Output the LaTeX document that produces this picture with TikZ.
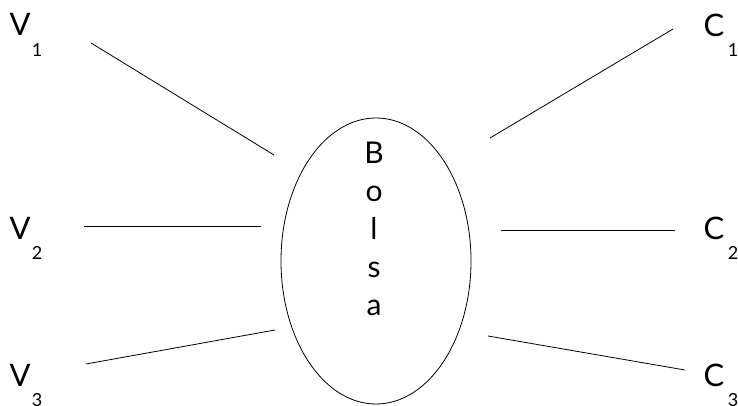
\documentclass[tikz,border=0pt]{standalone}
\usepackage{fontspec}
\setmainfont{Lato}
\usepackage{tikz}
\usetikzlibrary{calc,positioning,shapes.geometric}

\begin{document}
\begin{tikzpicture}[x=1pt,y=-1pt,
  lbl/.style={font=\fontsize{31}{34}\selectfont, inner sep=0pt},
  idx/.style={font=\fontsize{18}{20}\selectfont, inner sep=0pt},
  link/.style={line width=0.8pt}]
% market hub with sellers on the left and buyers on the right
\useasboundingbox (0,0) rectangle (738,406);
\node[ellipse, draw, line width=0.8pt, minimum width=190, minimum height=286, inner sep=0pt]
  (bolsa) at (376,261) {};
\node[align=center, font=\fontsize{30}{38}\selectfont, inner sep=0pt]
  (bolsatxt) at (374,229) {B\\o\\l\\s\\a};
% sellers
\node[lbl] (v1) at (20,24) {V};   \node[idx] (v1i) at (37,50) {1};
\node[lbl] (v2) at (20,228) {V};  \node[idx] (v2i) at (37,253) {2};
\node[lbl] (v3) at (20,375) {V};  \node[idx] (v3i) at (37,400) {3};
% buyers
\node[lbl] (c1) at (714,25) {C};  \node[idx] (c1i) at (733,50) {1};
\node[lbl] (c2) at (714,228) {C}; \node[idx] (c2i) at (733,253) {2};
\node[lbl] (c3) at (714,375) {C}; \node[idx] (c3i) at (733,400) {3};
% line ends
\coordinate (v1a) at (91,43);  \coordinate (v1b) at (274,155);
\coordinate (v2a) at (84,226); \coordinate (v2b) at (261,226);
\coordinate (v3a) at (86,364); \coordinate (v3b) at (275,330);
\coordinate (c1a) at (490,138); \coordinate (c1b) at (673,29);
\coordinate (c2a) at (501,230); \coordinate (c2b) at (675,230);
\coordinate (c3a) at (488,336); \coordinate (c3b) at (685,370);
\draw[link] (v1a) -- (v1b);
\draw[link] (v2a) -- (v2b);
\draw[link] (v3a) -- (v3b);
\draw[link] (c1a) -- (c1b);
\draw[link] (c2a) -- (c2b);
\draw[link] (c3a) -- (c3b);
\end{tikzpicture}
\end{document}
